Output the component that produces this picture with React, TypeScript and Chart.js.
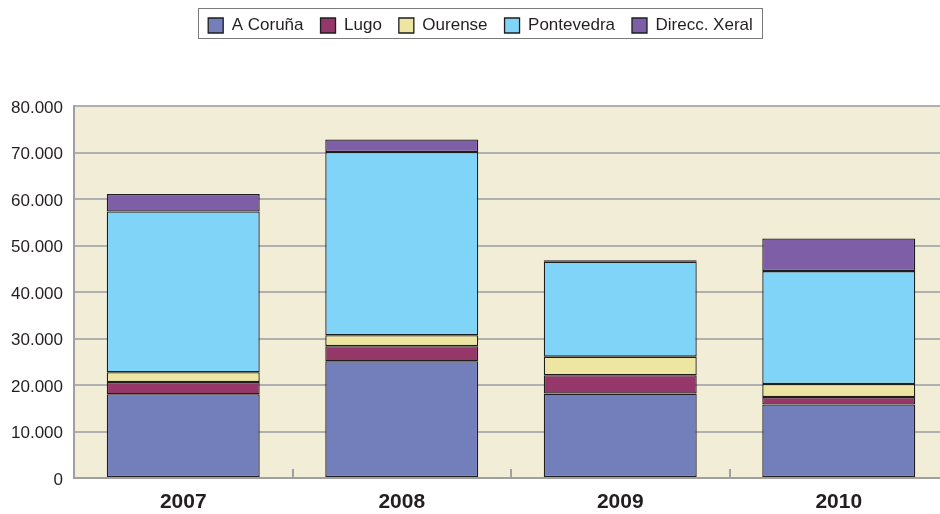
import React, { useEffect, useRef } from 'react';
import { Chart, registerables } from 'chart.js';

Chart.register(...registerables);

const categories = ['2007', '2008', '2009', '2010'];
const aCoruna = [18000, 25100, 18150, 15800];
const lugo = [2650, 3250, 3950, 1600];
const ourense = [2100, 2350, 4000, 2800];
const pontevedra = [34550, 39400, 20400, 24300];
const direcc = [3750, 2700, 350, 7000];
const yTicks = { min: 0, max: 80000, step: 10000 };

const seriesNames = ['A Coruña', 'Lugo', 'Ourense', 'Pontevedra', 'Direcc. Xeral'];
const seriesColors = ['#737FBA', '#96376A', '#ECE6A2', '#80D4F7', '#7F5EA8'];
const seriesData = [aCoruna, lugo, ourense, pontevedra, direcc];

const FONT = "'Liberation Sans', Arial, sans-serif";

const plotBackground = {
  id: 'plotBackground',
  beforeDraw(chart: any) {
    const { ctx, chartArea } = chart;
    ctx.save();
    ctx.fillStyle = '#F2EDD7';
    ctx.fillRect(chartArea.left, chartArea.top, chartArea.right - chartArea.left, chartArea.bottom - chartArea.top);
    ctx.restore();
  },
};

const legendSpace = {
  id: 'legendSpace',
  beforeLayout(chart: any) {
    const lg = chart.legend;
    if (lg && !lg.__patched) {
      const f = lg.fit.bind(lg);
      lg.fit = function () {
        f();
        this.height = 106;
      };
      lg.__patched = true;
    }
  },
  afterLayout(chart: any) {
    const lg = chart.legend;
    if (lg) {
      lg.left += 4;
      lg.right += 4;
    }
  },
};

const legendBorder = {
  id: 'legendBorder',
  afterDraw(chart: any) {
    const lg = chart.legend;
    if (!lg || !lg.legendHitBoxes || !lg.legendHitBoxes.length) return;
    const hb = lg.legendHitBoxes;
    let l = Infinity, r = -Infinity;
    hb.forEach((b: any) => {
      l = Math.min(l, b.left);
      r = Math.max(r, b.left + b.width);
    });
    const { ctx } = chart;
    ctx.save();
    ctx.strokeStyle = '#7A7A7A';
    ctx.lineWidth = 1;
    ctx.strokeRect(Math.round(l - 10) + 0.5, 8.5, Math.round(r - l + 19), 30);
    ctx.restore();
  },
};

const categoryTicks = {
  id: 'categoryTicks',
  afterDatasetsDraw(chart: any) {
    const { ctx, chartArea } = chart;
    const xs = chart.scales.x;
    ctx.save();
    ctx.strokeStyle = '#A0A0A0';
    ctx.lineWidth = 2;
    for (let i = 1; i < categories.length; i++) {
      const x = Math.round((xs.getPixelForValue(i - 1) + xs.getPixelForValue(i)) / 2);
      ctx.beginPath();
      ctx.moveTo(x, chartArea.bottom);
      ctx.lineTo(x, chartArea.bottom - 9);
      ctx.stroke();
    }
    ctx.restore();
  },
};

export default function App() {
  const ref = useRef<HTMLCanvasElement | null>(null);

  useEffect(() => {
    document.body.style.margin = '0';
    const canvas = ref.current;
    if (!canvas) return;
    const chart = new Chart(canvas, {
      type: 'bar',
      data: {
        labels: categories,
        datasets: seriesNames.map((name, i) => ({
          label: name,
          data: seriesData[i],
          backgroundColor: seriesColors[i],
          borderColor: '#1E1E1E',
          borderWidth: 1.3,
          borderSkipped: false,
          categoryPercentage: 1,
          barPercentage: 0.7,
        })),
      },
      options: {
        responsive: false,
        animation: false,
        devicePixelRatio: 1,
        layout: { padding: { left: 5, right: 7, top: 0, bottom: 0 } },
        plugins: {
          tooltip: { enabled: false },
          legend: {
            position: 'top',
            labels: {
              boxWidth: 15,
              boxHeight: 15,
              padding: 17,
              color: '#231F20',
              font: { family: FONT, size: 17 },
            },
          },
        },
        scales: {
          x: {
            stacked: true,
            grid: { display: false, drawTicks: false },
            border: { display: true, color: '#A0A0A0', width: 2 },
            ticks: {
              padding: 12,
              color: '#231F20',
              font: { family: FONT, size: 21, weight: 'bold' },
            },
            afterFit(scale: any) {
              scale.height = 36;
            },
          },
          y: {
            stacked: true,
            min: yTicks.min,
            max: yTicks.max,
            grid: { color: '#B0B0B0', lineWidth: 2, drawTicks: false },
            border: { display: true, color: '#A0A0A0', width: 2 },
            ticks: {
              stepSize: yTicks.step,
              padding: 11,
              labelOffset: 2,
              color: '#231F20',
              font: { family: FONT, size: 17 },
              callback: (v: any) => String(v).replace(/\B(?=(\d{3})+(?!\d))/g, '.'),
            },
            afterFit(scale: any) {
              scale.width = 69;
            },
          },
        },
      },
      plugins: [plotBackground, legendSpace, legendBorder, categoryTicks],
    } as any);
    return () => chart.destroy();
  }, []);

  return (
    <div style={{ position: 'fixed', left: 0, top: 0, width: 940, height: 514, overflow: 'hidden', background: '#fff' }}>
      <div style={{ width: 955, height: 514 }}>
        <canvas ref={ref} width={955} height={514} style={{ display: 'block' }} />
      </div>
    </div>
  );
}
